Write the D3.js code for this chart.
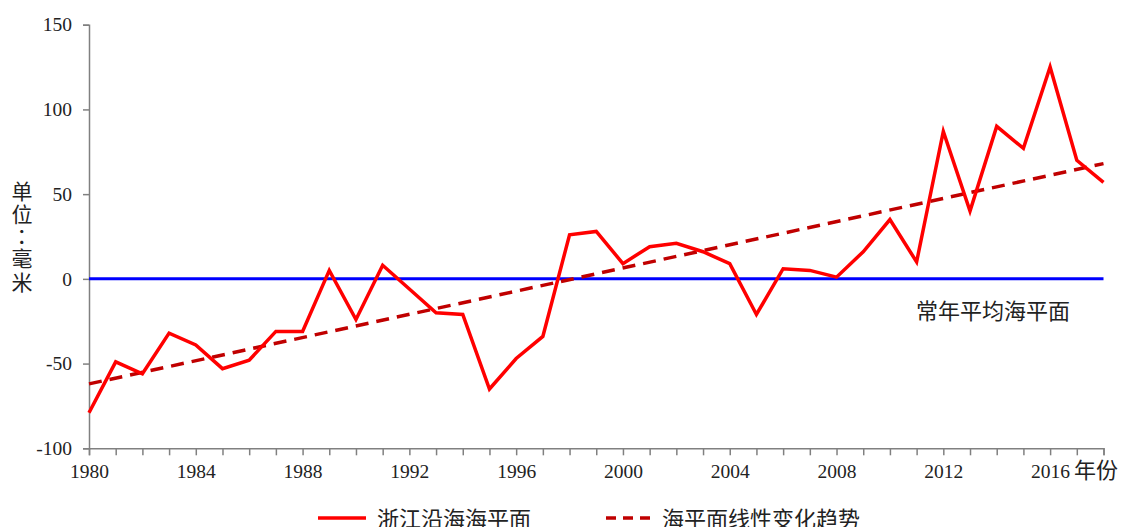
<!DOCTYPE html>
<meta charset="utf-8">
<script src="https://d3js.org/d3.v7.min.js"></script>
<style>
  body { margin: 0; background: #fff; }
  text { font-family: "Liberation Serif", "Noto Sans CJK SC", serif; fill: #222; }
  .cjk { font-family: "Noto Sans CJK SC", sans-serif; }
</style>
<svg width="1126" height="527"></svg>
<script>

    // sea level anomaly (mm)
    const years = d3.range(1980, 2019);
    const seaLevel = [-79, -49, -56, -32, -39, -53, -48, -31, -31, 5,
        -24, 8, -6, -20, -21, -65, -47, -34, 26, 28,
        9, 19, 21, 16, 9, -21, 6, 5, 1, 16,
        35, 10, 87, 40, 90, 77, 125, 70, 57];
    // linear trend end points
    const trendYears = [1980, 2018];
    const trendValues = [-62, 68];
    const xTickLabels = [1980, 1984, 1988, 1992, 1996, 2000, 2004, 2008, 2012, 2016];
    const yTicks = [-100, -50, 0, 50, 100, 150];

    const svg = d3.select("svg");

    const x = d3.scaleLinear().domain([1980, 2018]).range([89, 1103.5]);
    const y = d3.scaleLinear().domain([-100, 150]).range([448.3, 24.7]);

    // y axis
    const yAxis = svg.append("g")
        .attr("transform", "translate(" + x(1980) + ",0)")
        .call(d3.axisLeft(y).tickValues(yTicks).tickSize(6).tickPadding(11).tickFormat(d => String(d)));
    yAxis.select(".domain").attr("stroke", "#808080").attr("stroke-width", 1.5);
    yAxis.selectAll(".tick line").attr("stroke", "#808080").attr("stroke-width", 1.5);
    yAxis.selectAll("text").style("font-size", "19.5px").attr("fill", "#222")
        .style("font-family", "Liberation Serif");

    // x axis
    const xAxis = svg.append("g")
        .attr("transform", "translate(0," + y(-100) + ")")
        .call(d3.axisBottom(x).tickValues(years).tickSize(7).tickPadding(9)
            .tickFormat(d => xTickLabels.includes(d) ? d : ""));
    xAxis.select(".domain").attr("stroke", "#808080").attr("stroke-width", 1.5);
    xAxis.selectAll(".tick line").attr("stroke", "#808080").attr("stroke-width", 1.5);
    xAxis.selectAll("text").style("font-size", "19.5px").attr("fill", "#222")
        .style("font-family", "Liberation Serif");

    // normal mean sea level
    svg.append("line")
        .attr("x1", x(1980)).attr("x2", x(2018))
        .attr("y1", y(0)).attr("y2", y(0))
        .attr("stroke", "#0000ff").attr("stroke-width", 3);

    const line = d3.line().x(d => x(d[0])).y(d => y(d[1]));

    // trend
    svg.append("path")
        .datum(d3.zip(trendYears, trendValues))
        .attr("d", line)
        .attr("fill", "none")
        .attr("stroke", "#c00000")
        .attr("stroke-width", 3.5)
        .attr("stroke-dasharray", "13,8");

    // observed series
    svg.append("path")
        .datum(d3.zip(years, seaLevel))
        .attr("d", line)
        .attr("fill", "none")
        .attr("stroke", "#ff0000")
        .attr("stroke-width", 3.5)
        .attr("stroke-linejoin", "miter");

    svg.append("text").attr("class", "cjk")
        .attr("x", 916).attr("y", 319)
        .style("font-size", "22px")
        .text("常年平均海平面");

    svg.append("text").attr("class", "cjk")
        .attr("x", 1074).attr("y", 478)
        .style("font-size", "22px")
        .text("年份");

    // vertical unit label
    const unit = ["单", "位", "：", "毫", "米"];
    const unitY = [199, 222, 243, 266, 290];
    svg.append("text")
        .attr("class", "cjk")
        .attr("text-anchor", "middle")
        .style("font-size", "21px")
        .selectAll("tspan")
        .data(unit)
        .enter()
        .append("tspan")
        .attr("x", 22)
        .attr("y", (d, i) => unitY[i])
        .attr("dx", (d, i) => d === "：" ? 5 : 0)
        .text(d => d);

    // legend
    const legend = [
        {label: "浙江沿海海平面", color: "#ff0000", dash: null, x0: 318, x1: 366, tx: 377},
        {label: "海平面线性变化趋势", color: "#c00000", dash: "10,7", x0: 606, x1: 656, tx: 662}
    ];
    const lg = svg.selectAll(".legend").data(legend).enter().append("g");
    lg.append("line")
        .attr("x1", d => d.x0).attr("x2", d => d.x1)
        .attr("y1", 518).attr("y2", 518)
        .attr("stroke", d => d.color)
        .attr("stroke-width", 3.5)
        .attr("stroke-dasharray", d => d.dash);
    lg.append("text").attr("class", "cjk")
        .attr("x", d => d.tx).attr("y", 527)
        .style("font-size", "22px")
        .text(d => d.label);

</script>
